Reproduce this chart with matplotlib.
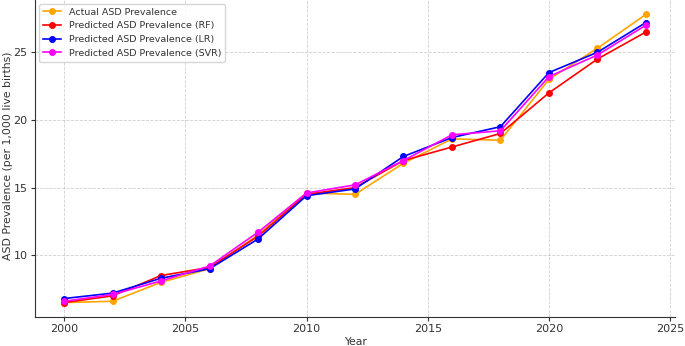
import matplotlib
matplotlib.use("Agg")
import matplotlib.pyplot as plt

years = [2000, 2002, 2004, 2006, 2008, 2010, 2012, 2014, 2016, 2018, 2020, 2022, 2024]
actual = [6.5, 6.6, 8.0, 9.0, 11.5, 14.6, 14.5, 16.8, 18.6, 18.5, 23.0, 25.3, 27.8]
pred_rf = [6.5, 7.0, 8.5, 9.1, 11.4, 14.5, 15.0, 17.0, 18.0, 19.0, 22.0, 24.5, 26.5]
pred_lr = [6.8, 7.2, 8.3, 9.0, 11.2, 14.4, 14.9, 17.3, 18.7, 19.5, 23.5, 25.0, 27.2]
pred_svr = [6.6, 7.1, 8.1, 9.2, 11.7, 14.6, 15.2, 17.0, 18.9, 19.2, 23.2, 24.8, 27.0]

plt.rcParams["font.size"] = 8
plt.rcParams["text.color"] = "#333333"
plt.rcParams["axes.labelcolor"] = "#333333"
plt.rcParams["xtick.color"] = "#333333"
plt.rcParams["ytick.color"] = "#333333"
plt.rcParams["axes.edgecolor"] = "#333333"
plt.rcParams["xtick.major.size"] = 2.8
plt.rcParams["ytick.major.size"] = 2.8
plt.rcParams["xtick.major.pad"] = 2.5
plt.rcParams["ytick.major.pad"] = 2.5

fig = plt.figure(figsize=(6.85, 3.46), dpi=100)
ax = fig.add_axes([0.0511, 0.0838, 0.9343, 0.9162])

ax.plot(years, actual, marker="o", markersize=4, linewidth=1.2, color="orange", label="Actual ASD Prevalence")
ax.plot(years, pred_rf, marker="o", markersize=4, linewidth=1.2, color="red", label="Predicted ASD Prevalence (RF)")
ax.plot(years, pred_lr, marker="o", markersize=4, linewidth=1.2, color="blue", label="Predicted ASD Prevalence (LR)")
ax.plot(years, pred_svr, marker="o", markersize=4, linewidth=1.2, color="magenta", label="Predicted ASD Prevalence (SVR)")

ax.set_xlabel("Year", fontsize=7.8)
ax.set_ylabel("ASD Prevalence (per 1,000 live births)", fontsize=7.8)
ax.xaxis.set_label_coords(0.5, -0.062)
ax.yaxis.set_label_coords(-0.034, 0.51)
ax.spines["top"].set_visible(False)
ax.spines["right"].set_visible(False)
ax.grid(True, linestyle="--", linewidth=0.6, alpha=0.6)
ax.legend(loc="upper left", fontsize=6.8, borderaxespad=0.4)

fig.savefig("out.png", dpi=100)
